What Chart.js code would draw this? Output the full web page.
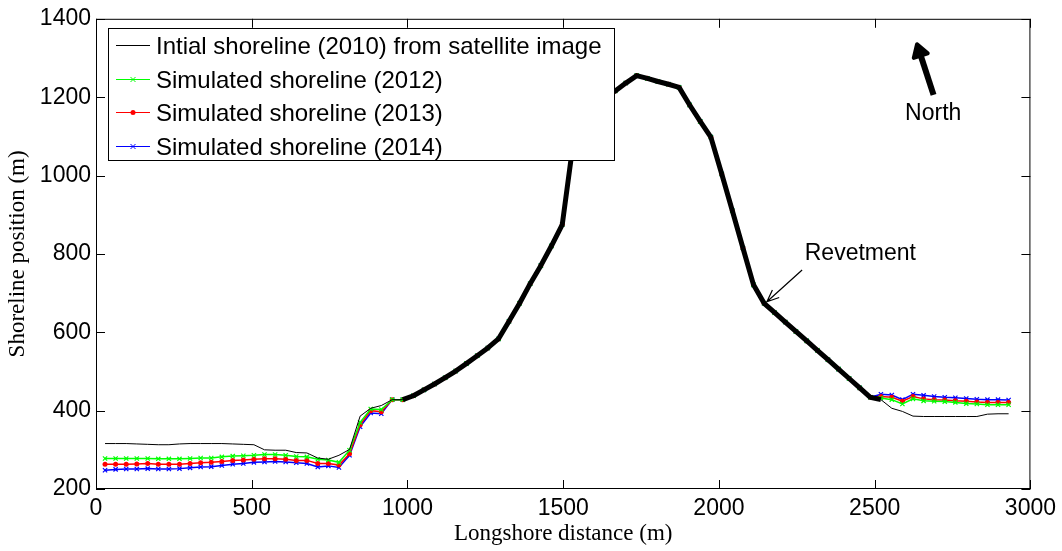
<!DOCTYPE html>
<html lang="en">
<head>
    <meta charset="UTF-8">
    <title>Shoreline evolution</title>
    <script src="https://cdn.jsdelivr.net/npm/chart.js@4"></script>
    <style>
        body { margin: 0; background: #fff; }
        .chart-box { width: 1062px; height: 551px; }
    </style>
</head>
<body>

<div class="chart-box">
    <canvas id="shoreChart" width="1062" height="551"></canvas>
</div>

<script>
    // Longshore distance of each computation cell (m)
    const distance = [29, 63, 97, 131, 166, 200, 234, 268, 302, 336, 370, 404, 439, 473, 507, 541, 575, 609, 643, 677,
        712, 746, 780, 814, 848, 882, 916, 951, 985, 1019, 1053, 1087, 1121, 1155, 1189, 1224, 1258, 1292, 1326, 1360,
        1394, 1428, 1462, 1497, 1531, 1565, 1599, 1633, 1667, 1701, 1736, 1770, 1804, 1838, 1872, 1906, 1940, 1974, 2009, 2043,
        2077, 2111, 2145, 2179, 2213, 2247, 2282, 2316, 2350, 2384, 2418, 2452, 2486, 2520, 2555, 2589, 2623, 2657, 2691, 2725,
        2759, 2794, 2828, 2862, 2896, 2930];

    // Shoreline positions (m)
    const initial2010 = [316, 316, 316, 315, 314, 313, 313, 315, 316, 316, 316, 316, 315, 314, 313, 300, 299, 299, 293, 292,
        279, 276, 286, 301, 386, 406, 413, 428, 428, 438, 453, 468, 484, 501, 520, 540, 560, 583, 628, 674,
        724, 770, 820, 875, 1077, 1130, 1165, 1195, 1216, 1236, 1255, 1248, 1240, 1233, 1225, 1180, 1138, 1098, 1004, 910,
        815, 721, 674, 650, 626, 602, 578, 554, 530, 506, 482, 458, 434, 428, 406, 398, 386, 385, 385, 385,
        385, 385, 385, 391, 392, 392];
    const sim2012 = [278, 278, 278, 278, 278, 277, 277, 277, 278, 279, 279, 282, 284, 285, 286, 288, 288, 286, 283, 282,
        276, 274, 268, 299, 370, 404, 403, 428, 428, 438, 453, 468, 484, 501, 520, 540, 560, 583, 628, 674,
        724, 770, 820, 875, 1077, 1130, 1165, 1195, 1216, 1236, 1255, 1248, 1240, 1233, 1225, 1180, 1138, 1098, 1004, 910,
        815, 721, 674, 650, 626, 602, 578, 554, 530, 506, 482, 458, 434, 432, 428, 417, 430, 425, 424, 423,
        421, 418, 417, 415, 415, 415];
    const sim2013 = [263, 263, 263, 264, 265, 263, 263, 263, 265, 267, 268, 270, 273, 274, 276, 277, 277, 276, 273, 273,
        265, 265, 261, 290, 364, 400, 397, 428, 428, 438, 453, 468, 484, 501, 520, 540, 560, 583, 628, 674,
        724, 770, 820, 875, 1077, 1130, 1165, 1195, 1216, 1236, 1255, 1248, 1240, 1233, 1225, 1180, 1138, 1098, 1004, 910,
        815, 721, 674, 650, 626, 602, 578, 554, 530, 506, 482, 458, 434, 436, 434, 424, 436, 430, 428, 427,
        425, 424, 422, 421, 421, 421];
    const sim2014 = [248, 250, 251, 251, 252, 251, 251, 252, 254, 256, 257, 260, 263, 265, 268, 269, 270, 269, 267, 265,
        256, 259, 255, 286, 359, 394, 392, 428, 428, 438, 453, 468, 484, 501, 520, 540, 560, 583, 628, 674,
        724, 770, 820, 875, 1077, 1130, 1165, 1195, 1216, 1236, 1255, 1248, 1240, 1233, 1225, 1180, 1138, 1098, 1004, 910,
        815, 721, 674, 650, 626, 602, 578, 554, 530, 506, 482, 458, 434, 442, 440, 428, 442, 439, 436, 434,
        433, 431, 429, 428, 428, 427];

    const seriesLabels = [
        'Intial shoreline (2010) from satellite image',
        'Simulated shoreline (2012)',
        'Simulated shoreline (2013)',
        'Simulated shoreline (2014)'
    ];
    const xTicks = [0, 500, 1000, 1500, 2000, 2500, 3000];
    const yTicks = [200, 400, 600, 800, 1000, 1200, 1400];

    // cells along the revetment, drawn with a heavy line
    const revetFrom = 28, revetTo = 73;

    const sansFont = '"Liberation Sans", Arial, sans-serif';
    const serifFont = '"Liberation Serif", "Times New Roman", serif';

    const toPoints = (vals) => distance.map((d, i) => ({ x: d, y: vals[i] }));

    // small marker helper, used by the legend box
    function marker(ctx, style, x, y, r) {
        ctx.beginPath();
        if (style === 'circle') {
            ctx.arc(x, y, r, 0, Math.PI * 2);
            ctx.fill();
        } else {
            ctx.moveTo(x - r, y - r); ctx.lineTo(x + r, y + r);
            ctx.moveTo(x - r, y + r); ctx.lineTo(x + r, y - r);
            ctx.stroke();
        }
    }

    // MATLAB-like frame with inward ticks
    const frameTicks = {
        id: 'frameTicks',
        afterDatasetsDraw(chart) {
            const { ctx, chartArea: a, scales } = chart;
            ctx.save();
            ctx.strokeStyle = '#000';
            ctx.lineWidth = 1;
            ctx.strokeRect(a.left + 0.5, a.top + 0.5, a.right - a.left - 1, a.bottom - a.top - 1);
            ctx.beginPath();
            xTicks.forEach(v => {
                const px = Math.round(scales.x.getPixelForValue(v)) + 0.5;
                ctx.moveTo(px, a.bottom); ctx.lineTo(px, a.bottom - 9);
                ctx.moveTo(px, a.top); ctx.lineTo(px, a.top + 9);
            });
            yTicks.forEach(v => {
                const py = Math.round(scales.y.getPixelForValue(v)) + 0.5;
                ctx.moveTo(a.left, py); ctx.lineTo(a.left + 9, py);
                ctx.moveTo(a.right, py); ctx.lineTo(a.right - 9, py);
            });
            ctx.stroke();
            ctx.restore();
        }
    };

    // opaque legend box in the upper left of the axes
    const boxLegend = {
        id: 'boxLegend',
        afterDatasetsDraw(chart) {
            const ctx = chart.ctx;
            ctx.save();
            ctx.fillStyle = '#fff';
            ctx.fillRect(108, 28, 506, 132);
            ctx.strokeStyle = '#000';
            ctx.lineWidth = 1;
            ctx.strokeRect(108.5, 28.5, 506, 132);
            ctx.font = '24px ' + sansFont;
            ctx.textBaseline = 'middle';
            chart.data.datasets.forEach((ds, i) => {
                const y = Math.round(45 + 33.5 * i) + 0.5;
                ctx.strokeStyle = ds.borderColor;
                ctx.fillStyle = ds.borderColor;
                ctx.lineWidth = 1;
                ctx.beginPath();
                ctx.moveTo(116, y); ctx.lineTo(150, y);
                ctx.stroke();
                if (ds.pointRadius > 0) marker(ctx, ds.pointStyle, 133, y, 2.5);
                ctx.fillStyle = '#000';
                ctx.fillText(ds.label, 156, y + 2);
            });
            ctx.restore();
        }
    };

    // "Revetment" and "North" notes
    const notes = {
        id: 'notes',
        afterDatasetsDraw(chart) {
            const { ctx, scales: { x, y } } = chart;
            ctx.save();
            ctx.fillStyle = '#000';
            ctx.strokeStyle = '#000';
            ctx.font = '23px ' + sansFont;
            ctx.textAlign = 'center';
            ctx.textBaseline = 'middle';
            ctx.fillText('Revetment', x.getPixelForValue(2454), y.getPixelForValue(800));
            ctx.fillText('North', x.getPixelForValue(2688), y.getPixelForValue(1158));

            // thin arrow pointing at the revetment
            let x0 = x.getPixelForValue(2267), y0 = y.getPixelForValue(759);
            let x1 = x.getPixelForValue(2154), y1 = y.getPixelForValue(678);
            let ang = Math.atan2(y1 - y0, x1 - x0);
            ctx.lineWidth = 1.2;
            ctx.beginPath();
            ctx.moveTo(x0, y0); ctx.lineTo(x1, y1);
            ctx.moveTo(x1 - 13 * Math.cos(ang - 0.4), y1 - 13 * Math.sin(ang - 0.4));
            ctx.lineTo(x1, y1);
            ctx.lineTo(x1 - 13 * Math.cos(ang + 0.4), y1 - 13 * Math.sin(ang + 0.4));
            ctx.stroke();

            // bold north arrow
            x0 = x.getPixelForValue(2689); y0 = y.getPixelForValue(1206);
            x1 = x.getPixelForValue(2636); y1 = y.getPixelForValue(1335);
            ang = Math.atan2(y1 - y0, x1 - x0);
            ctx.lineWidth = 6;
            ctx.beginPath();
            ctx.moveTo(x0, y0);
            ctx.lineTo(x1 - 10 * Math.cos(ang), y1 - 10 * Math.sin(ang));
            ctx.stroke();
            ctx.lineWidth = 4;
            ctx.lineJoin = 'round';
            ctx.beginPath();
            ctx.moveTo(x1, y1);
            ctx.lineTo(x1 - 14 * Math.cos(ang - 0.55), y1 - 14 * Math.sin(ang - 0.55));
            ctx.lineTo(x1 - 14 * Math.cos(ang + 0.55), y1 - 14 * Math.sin(ang + 0.55));
            ctx.closePath();
            ctx.fill();
            ctx.stroke();
            ctx.restore();
        }
    };

    const chart = new Chart(document.getElementById('shoreChart'), {
        type: 'line',
        data: {
            datasets: [
                {
                    label: seriesLabels[0],
                    data: toPoints(initial2010),
                    borderColor: '#000000',
                    borderWidth: 1,
                    borderJoinStyle: 'round',
                    pointRadius: 0,
                    segment: {
                        borderWidth: c => (c.p0DataIndex >= revetFrom && c.p1DataIndex <= revetTo) ? 5 : 1
                    }
                },
                {
                    label: seriesLabels[1],
                    data: toPoints(sim2012),
                    borderColor: '#00ff00',
                    backgroundColor: '#00ff00',
                    borderWidth: 1.5,
                    pointStyle: 'crossRot',
                    pointRadius: 3,
                    pointBorderWidth: 1.2
                },
                {
                    label: seriesLabels[2],
                    data: toPoints(sim2013),
                    borderColor: '#ff0000',
                    backgroundColor: '#ff0000',
                    borderWidth: 1.5,
                    pointStyle: 'circle',
                    pointRadius: 2.5,
                    pointBorderWidth: 0
                },
                {
                    label: seriesLabels[3],
                    data: toPoints(sim2014),
                    borderColor: '#0000ff',
                    backgroundColor: '#0000ff',
                    borderWidth: 1.5,
                    pointStyle: 'crossRot',
                    pointRadius: 3,
                    pointBorderWidth: 1.2
                }
            ]
        },
        options: {
            responsive: false,
            animation: false,
            layout: { padding: { left: 0, right: 31, top: 15, bottom: 0 } },
            plugins: {
                legend: { display: false },
                tooltip: { enabled: false }
            },
            scales: {
                x: {
                    type: 'linear',
                    min: 0,
                    max: 3000,
                    afterFit: s => { s.height = 62; },
                    afterBuildTicks: s => { s.ticks = xTicks.map(v => ({ value: v })); },
                    grid: { display: false, drawTicks: false },
                    border: { display: false },
                    ticks: {
                        color: '#000', padding: 6, maxRotation: 0,
                        font: { family: sansFont, size: 23 },
                        callback: v => String(v)
                    },
                    title: {
                        display: true,
                        text: 'Longshore distance (m)',
                        color: '#000',
                        padding: { top: 0, bottom: 3 },
                        font: { family: serifFont, size: 23 }
                    }
                },
                y: {
                    type: 'linear',
                    min: 200,
                    max: 1400,
                    afterFit: s => { s.width = 96; },
                    afterBuildTicks: s => { s.ticks = yTicks.map(v => ({ value: v })); },
                    grid: { display: false, drawTicks: false },
                    border: { display: false },
                    ticks: {
                        color: '#000', padding: 5,
                        font: { family: sansFont, size: 23 },
                        callback: v => String(v)
                    },
                    title: {
                        display: true,
                        text: 'Shoreline position (m)',
                        color: '#000',
                        padding: { top: 4, bottom: 0 },
                        font: { family: serifFont, size: 23 }
                    }
                }
            }
        },
        plugins: [frameTicks, boxLegend, notes]
    });
</script>

</body>
</html>
